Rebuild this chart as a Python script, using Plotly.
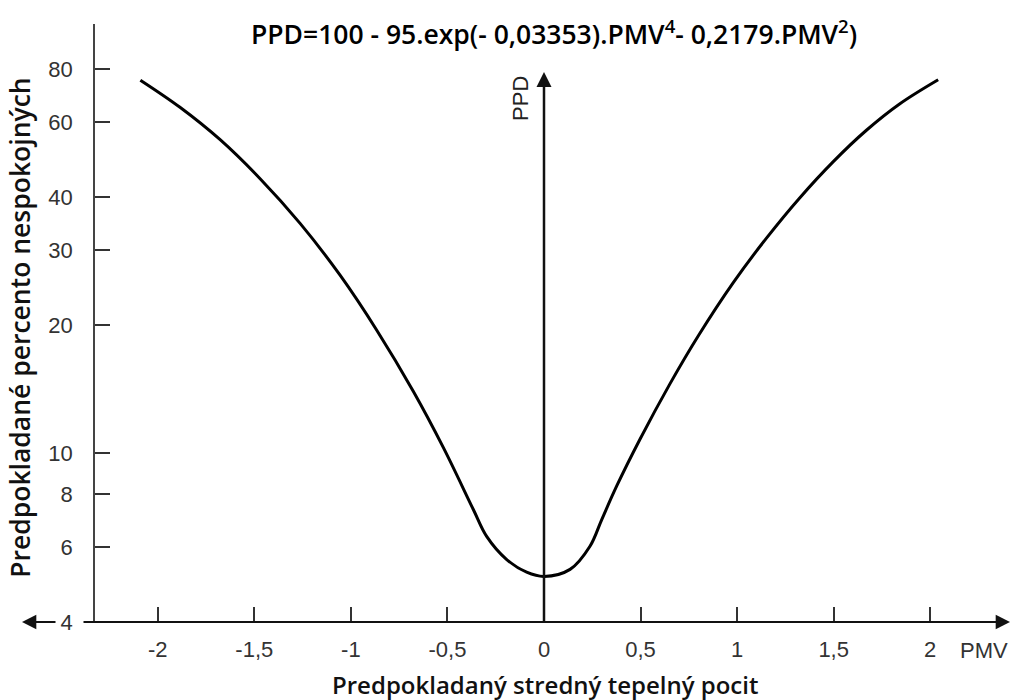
import plotly.graph_objects as go
import math

# ---- data ----
pmv = [-2.09, -1.885, -1.677, -1.47, -1.263, -1.056, -0.866, -0.677, -0.521, -0.366,
       -0.297, -0.193, -0.09, 0.0, 0.135, 0.238, 0.299, 0.376, 0.497, 0.652,
       0.80, 0.98, 1.153, 1.325, 1.498, 1.671, 1.843, 2.041]
ppd = [75.4, 65.1, 54.6, 44.2, 34.7, 26.2, 19.45, 13.97, 10.29, 7.36,
       6.36, 5.61, 5.24, 5.12, 5.32, 6.03, 6.97, 8.35, 10.77, 14.54,
       18.9, 25.17, 32.08, 39.89, 48.5, 57.56, 66.37, 75.58]

x_tickvals = [-2, -1.5, -1, -0.5, 0, 0.5, 1, 1.5, 2]
x_ticktext = ["-2", "-1,5", "-1", "-0,5", "0", "0,5", "1", "1,5", "2"]
y_tickvals = [4, 6, 8, 10, 20, 30, 40, 60, 80]
y_ticktext = ["4", "6", "8", "10", "20", "30", "40", "60", "80"]

title_text = "PPD=100 - 95.exp(- 0,03353).PMV<sup>4</sup>- 0,2179.PMV<sup>2</sup>)"
x_title = "Predpokladaný stredný tepelný pocit"
y_title = "Predpokladané percento nespokojných"

# ---- layout geometry ----
W, H = 1013, 700
L, R, T, B = 95, 3, 24, 77.5
pw, ph = W - L - R, H - T - B
x_range = [-2.325, 2.413]
y_range = [math.log10(4), math.log10(4) + ph / 425.2]

def px(xp):
    return (xp - L) / pw

def py(yp):
    return (H - B - yp) / ph

fig = go.Figure()
fig.add_trace(go.Scatter(x=pmv, y=ppd, mode="lines",
                         line=dict(color="black", width=3, shape="spline", smoothing=1.0),
                         hoverinfo="skip", showlegend=False))

tick_font = dict(family="Liberation Sans, Arial, sans-serif", size=22, color="#333333")
title_font = dict(family="Open Sans, sans-serif", size=24, color="#111111", weight=600)

fig.update_layout(
    width=W, height=H,
    margin=dict(l=L, r=R, t=T, b=B, autoexpand=False),
    paper_bgcolor="white", plot_bgcolor="white",
    xaxis=dict(range=x_range, tickvals=x_tickvals, ticktext=x_ticktext,
               showgrid=False, zeroline=False, showline=False,
               ticks="inside", ticklen=15, tickwidth=1.5, tickcolor="#333333",
               tickfont=tick_font, ticklabelstandoff=12),
    yaxis=dict(type="log", range=y_range, tickvals=y_tickvals, ticktext=y_ticktext,
               showgrid=False, zeroline=False, showline=True, linecolor="#444444", linewidth=1.5,
               ticks="inside", ticklen=15, tickwidth=1.5, tickcolor="#333333",
               tickfont=tick_font, ticklabelstandoff=16),
)

ann = []
# x axis line with right arrow
ann.append(dict(xref="paper", yref="paper", x=px(1010), y=0, ax=-(1010 - 82), ay=0,
                text="", showarrow=True,
                arrowhead=2, arrowsize=1.3, arrowwidth=2.2, arrowcolor="#111111"))
# small left arrow beyond the "4"
ann.append(dict(xref="paper", yref="paper", x=px(22), y=0, ax=35, ay=0,
                text="", showarrow=True,
                arrowhead=2, arrowsize=1.3, arrowwidth=2.2, arrowcolor="#111111"))
# PPD vertical arrow at PMV = 0
ann.append(dict(xref="x", yref="paper", x=0, y=py(72), ax=0, ay=(622.5 - 72),
                text="", showarrow=True,
                arrowhead=2, arrowsize=1.2, arrowwidth=2.5, arrowcolor="#111111"))
# PPD label
ann.append(dict(xref="paper", yref="paper", x=px(521), y=py(99), text="PPD",
                textangle=-90, showarrow=False, font=tick_font | {"color": "#222222"},
                xanchor="center", yanchor="middle"))
# PMV label
ann.append(dict(xref="paper", yref="paper", x=px(984), y=py(651), text="PMV",
                showarrow=False, font=tick_font, xanchor="center", yanchor="middle"))
# chart title
ann.append(dict(xref="paper", yref="paper", x=px(554), y=py(33), text=title_text,
                showarrow=False, font=title_font | {"color": "black", "size": 26.5},
                xanchor="center", yanchor="middle"))
# axis titles
ann.append(dict(xref="paper", yref="paper", x=px(545), y=py(685), text=x_title,
                showarrow=False, font=title_font, xanchor="center", yanchor="middle"))
ann.append(dict(xref="paper", yref="paper", x=px(20), y=py(328), text=y_title, textangle=-90,
                showarrow=False, font=title_font | {"size": 26.5}, xanchor="center", yanchor="middle"))

fig.update_layout(annotations=ann)
fig.write_html("out.html", config={"displayModeBar": False},
               post_script="document.body.style.margin='0';document.body.style.overflow='hidden';")
